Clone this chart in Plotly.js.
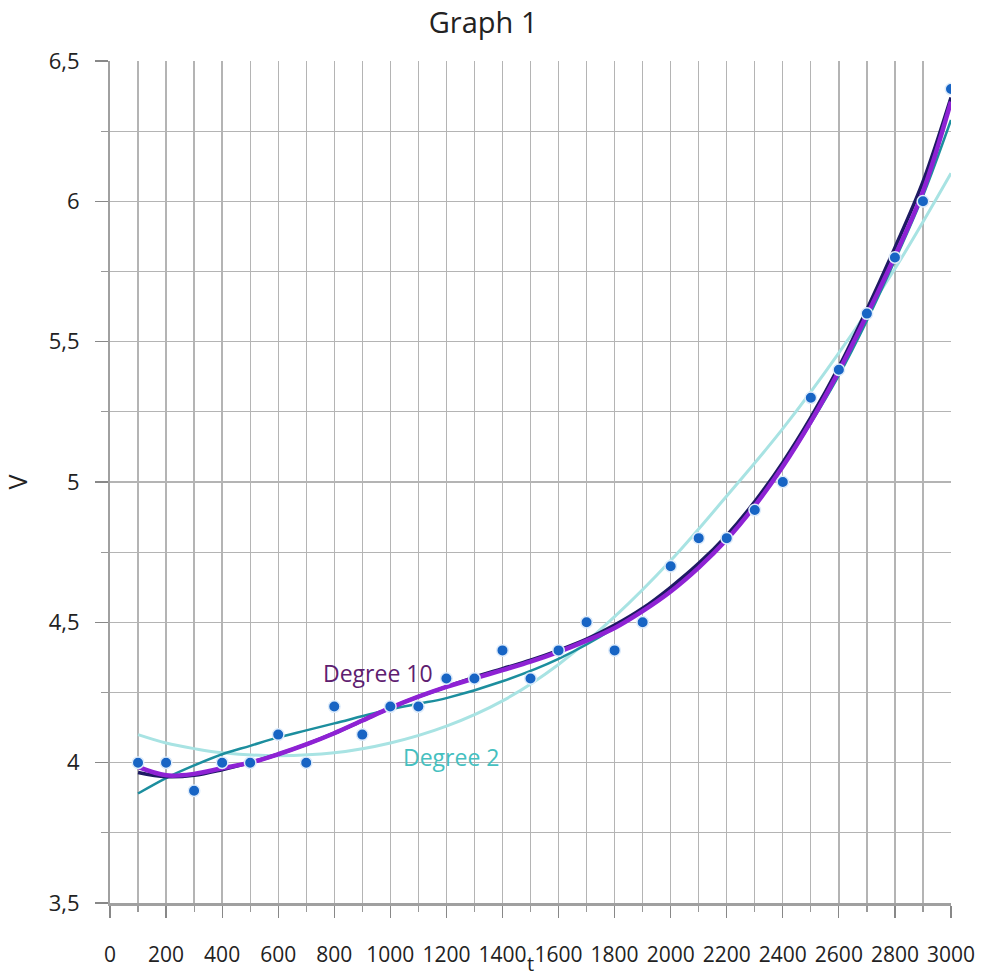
<!DOCTYPE html>
<html>
<head>
<meta charset="utf-8">
<script src="https://cdn.plot.ly/plotly-3.0.1.min.js"></script>
<style>html,body{margin:0;padding:0;background:#fff;}#chart{width:986px;height:980px;}</style>
</head>
<body>
<div id="chart"></div>
<script>
// Measured data points
const tValues = [100,200,300,400,500,600,700,800,900,1000,1100,1200,1300,1400,1500,1600,1700,1800,1900,2000,2100,2200,2300,2400,2500,2600,2700,2800,2900,3000];
const vValues = [4.0,4.0,3.9,4.0,4.0,4.1,4.0,4.2,4.1,4.2,4.2,4.3,4.3,4.4,4.3,4.4,4.5,4.4,4.5,4.7,4.8,4.8,4.9,5.0,5.3,5.4,5.6,5.8,6.0,6.4];

// Degree 2 fit curve
const deg2T = [100,200,300,400,600,800,1000,1200,1400,1600,1800,2000,2200,2400,2600,2800,3000];
const deg2V = [4.10,4.07,4.05,4.035,4.025,4.035,4.07,4.13,4.22,4.35,4.52,4.72,4.95,5.19,5.46,5.76,6.10];

// Teal fit curve
const tealT = [100,200,300,400,500,600,700,800,1000,1100,1200,1400,1600,1800,2000,2200,2400,2500,2600,2700,2800,2900,3000];
const tealV = [3.89,3.945,3.99,4.03,4.06,4.09,4.115,4.14,4.19,4.21,4.23,4.29,4.37,4.48,4.62,4.80,5.055,5.21,5.38,5.575,5.79,6.02,6.29];

// Dark navy fit curve
const navyT = [100,200,300,400,500,600,700,800,900,1000,1100,1200,1300,1400,1500,1600,1700,1800,1900,2000,2100,2200,2300,2400,2500,2600,2700,2800,2900,3000];
const navyV = [3.965,3.95,3.955,3.975,4.0,4.03,4.065,4.105,4.15,4.195,4.235,4.27,4.305,4.335,4.365,4.40,4.44,4.49,4.55,4.625,4.71,4.81,4.93,5.07,5.23,5.41,5.615,5.835,6.07,6.37];

// Degree 10 fit curve
const deg10T = [100,200,300,400,500,600,700,800,900,1000,1100,1200,1300,1400,1500,1600,1700,1800,1900,2000,2100,2200,2300,2400,2500,2600,2700,2800,2900,3000];
const deg10V = [3.985,3.955,3.96,3.98,4.0,4.03,4.065,4.105,4.15,4.195,4.235,4.27,4.30,4.33,4.36,4.395,4.435,4.48,4.54,4.61,4.695,4.795,4.915,5.055,5.215,5.395,5.595,5.805,6.035,6.355];

// Tick labels
const yTickVals = [3.5,4,4.5,5,5.5,6,6.5];
const yTickText = ['3,5','4','4,5','5','5,5','6','6,5'];
const xTickVals = [0,200,400,600,800,1000,1200,1400,1600,1800,2000,2200,2400,2600,2800,3000];
const xTickText = ['0','200','400','600','800','1000','1200','1400','1600','1800','2000','2200','2400','2600','2800','3000'];

const gridColor = '#B4B4B4';
const fontFam = '"Open Sans", "Noto Sans", sans-serif';

const traces = [
  {x: deg2T, y: deg2V, mode: 'lines', line: {color: '#A8E3E3', width: 3, shape: 'spline', smoothing: 1}, hoverinfo: 'skip'},
  {x: tealT, y: tealV, mode: 'lines', line: {color: '#1C8E9E', width: 2.5, shape: 'spline', smoothing: 1}, hoverinfo: 'skip'},
  {x: navyT, y: navyV, mode: 'lines', line: {color: '#1E1A63', width: 3.5, shape: 'spline', smoothing: 1}, hoverinfo: 'skip'},
  {x: deg10T, y: deg10V, mode: 'lines', line: {color: '#8E22D4', width: 4.5, shape: 'spline', smoothing: 1}, hoverinfo: 'skip'},
  {x: tValues, y: vValues, mode: 'markers', marker: {color: '#1764C4', size: 11.5, line: {color: '#DDEBFA', width: 1.5}}}
];

const layout = {
  width: 986, height: 980,
  margin: {l: 110, r: 35, t: 61, b: 77},
  paper_bgcolor: '#fff', plot_bgcolor: '#fff',
  showlegend: false,
  font: {family: fontFam, color: '#222'},
  title: {text: 'Graph 1', font: {family: fontFam, size: 29, color: '#222'}, x: 0.49, xanchor: 'center', y: 0.977, yanchor: 'middle', yref: 'container'},
  xaxis: {
    range: [0, 3000], tickvals: xTickVals, ticktext: xTickText,
    showgrid: true, gridcolor: gridColor, gridwidth: 1.3,
    ticks: 'outside', ticklen: 12, tickwidth: 1.2, tickcolor: '#888',
    showline: true, linecolor: '#A0A0A0', linewidth: 2.5,
    zeroline: false, ticklabelstandoff: 19,
    tickfont: {family: fontFam, size: 21, color: '#222'},
    minor: {dtick: 100, tick0: 0, showgrid: true, gridcolor: gridColor, gridwidth: 1.3, ticks: 'outside', ticklen: 6, tickcolor: '#999'}
  },
  yaxis: {
    range: [3.5, 6.5], tickvals: yTickVals, ticktext: yTickText,
    showgrid: true, gridcolor: gridColor, gridwidth: 1.3,
    ticks: 'outside', ticklen: 13, tickwidth: 1.2, tickcolor: '#888',
    showline: true, linecolor: '#A0A0A0', linewidth: 2,
    zeroline: false, ticklabelstandoff: 11,
    tickfont: {family: fontFam, size: 22, color: '#222'},
    minor: {dtick: 0.25, tick0: 3.5, showgrid: true, gridcolor: gridColor, gridwidth: 1.3, ticks: 'outside', ticklen: 7, tickcolor: '#999'},
    title: {text: 'V', font: {family: fontFam, size: 25, color: '#222'}, standoff: 18}
  },
  annotations: [
    {x: 956, y: 4.319, xref: 'x', yref: 'y', text: 'Degree 10', showarrow: false, font: {family: fontFam, size: 23, color: '#5E2070'}},
    {x: 1217, y: 4.02, xref: 'x', yref: 'y', text: 'Degree 2', showarrow: false, font: {family: fontFam, size: 23, color: '#45C0C0'}},
    {x: 0.5, y: -0.0885, xref: 'paper', yref: 'paper', xanchor: 'center', yanchor: 'bottom', borderpad: 0, text: 't', showarrow: false, font: {family: fontFam, size: 20, color: '#222'}}
  ]
};

Plotly.newPlot('chart', traces, layout, {displayModeBar: false, staticPlot: true});
</script>
</body>
</html>
